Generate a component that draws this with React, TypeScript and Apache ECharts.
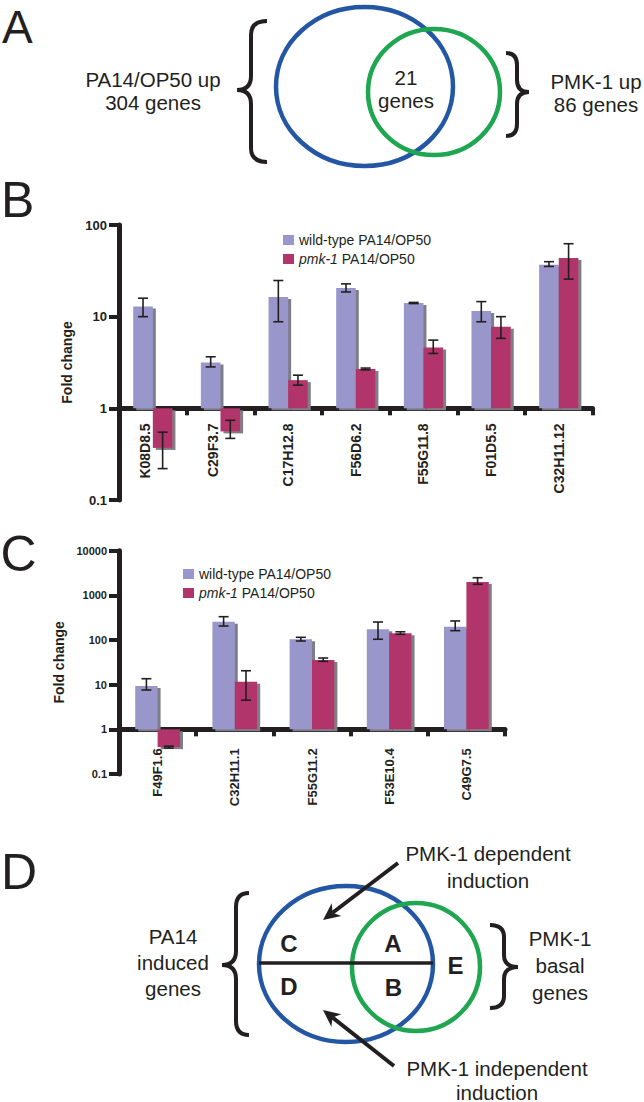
import React, { useEffect, useRef } from 'react';
import * as echarts from 'echarts';

// ---------- Panel B data ----------
const genesB = ['K08D8.5', 'C29F3.7', 'C17H12.8', 'F56D6.2', 'F55G11.8', 'F01D5.5', 'C32H11.12'];
const wtB = [12.9, 3.17, 16.4, 20.5, 14.1, 11.5, 36.8];
const wtBLo = [10.0, 2.83, 8.8, 18.6, 13.9, 8.8, 35.3];
const wtBHi = [15.9, 3.65, 24.8, 22.8, 14.3, 14.6, 39.8];
const pmkB = [0.37, 0.56, 2.03, 2.69, 4.62, 7.77, 43.6];
const pmkBLo = [0.22, 0.47, 1.79, 2.63, 3.97, 5.8, 25.7];
const pmkBHi = [0.55, 0.74, 2.3, 2.75, 5.55, 10.0, 62.5];
const ticksB = [0.1, 1, 10, 100];

// ---------- Panel C data ----------
const genesC = ['F49F1.6', 'C32H11.1', 'F55G11.2', 'F53E10.4', 'C49G7.5'];
const wtC = [9.3, 257, 104, 174, 199];
const wtCLo = [7.6, 206, 95, 104, 162];
const wtCHi = [13.6, 333, 115, 253, 267];
const pmkC = [0.4, 11.6, 35.6, 141, 1990];
const pmkCLo = [0.38, 4.5, 33.3, 134, 1767];
const pmkCHi = [0.42, 20.5, 39.5, 153, 2485];
const ticksC = [0.1, 1, 10, 100, 1000, 10000];

const seriesNames = ['wild-type PA14/OP50', 'pmk-1 PA14/OP50'];

// ---------- Styles ----------
const WT = '#9996cb';
const PMK = '#b1356a';
const SHADOW = '#7e7e86';
const INK = '#231f20';
const BLUE = '#2356a3';
const GREEN = '#1fa650';
const FONT = '"Liberation Sans", Arial, Helvetica, sans-serif';
const BAR_FRAC = 0.29;

const gridB = { left: 119, top: 225, width: 473.6, height: 275 };
const gridC = { left: 119, top: 550.7, width: 386, height: 223.3 };

const lg = (v: number) => Math.log10(v);
const fmtTick = (ticks: number[]) => (v: number) => {
  const t = ticks.find((tk) => Math.abs(Math.log10(tk) - v) < 1e-6);
  return t === undefined ? '' : String(t);
};
// distance (px) from the bottom of a grid up to the "fold change = 1" level
const baseOffset = (ticks: number[], height: number) => {
  const mn = lg(ticks[0]);
  const mx = lg(ticks[ticks.length - 1]);
  return (height * (0 - mn)) / (mx - mn);
};

function braceD(xEnd: number, xStem: number, xTip: number, y0: number, ym: number, y1: number, r: number) {
  return `M${xEnd} ${y0} Q${xStem} ${y0} ${xStem} ${y0 + r} L${xStem} ${ym - r} Q${xStem} ${ym} ${xTip} ${ym} Q${xStem} ${ym} ${xStem} ${ym + r} L${xStem} ${y1 - r} Q${xStem} ${y1} ${xEnd} ${y1}`;
}

const braces: Record<string, string> = {
  braceAL: braceD(267, 251, 237, 21, 90, 162, 14),
  braceAR: braceD(506, 517, 529, 53, 92, 136, 12),
  braceDL: braceD(249, 236, 222, 893, 965, 1035, 14),
  braceDR: braceD(490, 504, 518, 925, 967, 1008, 12),
};
let registered = false;
function registerBraces() {
  if (registered) return;
  registered = true;
  Object.keys(braces).forEach((k) => {
    echarts.graphic.registerShape(k, echarts.graphic.extendPath(braces[k], {}));
  });
}

function arrow(x1: number, y1: number, x2: number, y2: number) {
  const dx = x2 - x1, dy = y2 - y1;
  const len = Math.sqrt(dx * dx + dy * dy);
  const ux = dx / len, uy = dy / len;
  const nx = -uy, ny = ux;
  const L = 17, W = 8, notch = 5;
  const bx = x2 - ux * L, by = y2 - uy * L;
  return [
    { type: 'line', shape: { x1, y1, x2: bx + ux * notch, y2: by + uy * notch }, style: { stroke: INK, lineWidth: 4 } },
    {
      type: 'polygon',
      shape: { points: [[x2, y2], [bx + nx * W, by + ny * W], [bx + ux * notch, by + uy * notch], [bx - nx * W, by - ny * W]] },
      style: { fill: INK },
    },
  ];
}

// labels of genes whose pmk-1 bar hangs below 1 are nudged aside in panel B
function xAxisCfg(gridIndex: number, data: string[], fontSize: number, margin: number, offset: number, nudge: boolean[]) {
  return {
    type: 'category', gridIndex, data, position: 'bottom', offset,
    axisLine: { show: true, onZero: false, lineStyle: { color: INK, width: 5 } },
    axisTick: { show: true, length: 7, lineStyle: { color: INK, width: 4 } },
    axisLabel: {
      rotate: 90, interval: 0, margin, color: INK, fontWeight: 'bold', fontSize, fontFamily: FONT,
      formatter: (v: string, i: number) => (nudge[i] ? `{n|${v}}` : v),
      rich: { n: { padding: [0, 0, 15, 0], color: INK, fontWeight: 'bold', fontSize, fontFamily: FONT } },
    },
    splitLine: { show: false },
  };
}

function yAxisCfg(gridIndex: number, ticks: number[], fontSize: number) {
  return {
    type: 'value', gridIndex,
    min: Math.round(lg(ticks[0])), max: Math.round(lg(ticks[ticks.length - 1])), interval: 1,
    axisLine: { show: true, onZero: false, lineStyle: { color: INK, width: 5 } },
    axisTick: { show: true, length: 10, lineStyle: { color: INK, width: 4 } },
    axisLabel: { formatter: fmtTick(ticks), margin: 12, color: INK, fontWeight: 'bold', fontSize, fontFamily: FONT },
    splitLine: { show: false },
    name: 'Fold change', nameLocation: 'middle', nameRotate: 90, nameGap: 44,
    nameTextStyle: { color: INK, fontWeight: 'bold', fontSize: 14, fontFamily: FONT },
  };
}

function barSeries(name: string, idx: number, vals: number[], color: string) {
  return {
    type: 'bar', name, xAxisIndex: idx, yAxisIndex: idx,
    data: vals.map(lg), barWidth: `${BAR_FRAC * 100}%`, barGap: '0%',
    itemStyle: { color, shadowColor: SHADOW, shadowOffsetX: 3, shadowOffsetY: 2, shadowBlur: 0 },
  };
}

function errSeries(idx: number, lo: number[], hi: number[], side: number) {
  return {
    type: 'custom', xAxisIndex: idx, yAxisIndex: idx, silent: true, z: 5,
    data: lo.map((l, i) => [i, lg(l), lg(hi[i])]),
    renderItem: (params: any, api: any) => {
      const i = api.value(0);
      const pLo = api.coord([i, api.value(1)]);
      const pHi = api.coord([i, api.value(2)]);
      const band = api.size([1, 0])[0];
      const x = pLo[0] + (side * band * BAR_FRAC) / 2;
      const cap = 5;
      const st = { stroke: INK, lineWidth: 1.6 };
      return {
        type: 'group',
        children: [
          { type: 'line', shape: { x1: x, y1: pLo[1], x2: x, y2: pHi[1] }, style: st },
          { type: 'line', shape: { x1: x - cap, y1: pHi[1], x2: x + cap, y2: pHi[1] }, style: st },
          { type: 'line', shape: { x1: x - cap, y1: pLo[1], x2: x + cap, y2: pLo[1] }, style: st },
        ],
      };
    },
  };
}

function legendCfg(left: number, top: number) {
  return {
    data: seriesNames, left, top, orient: 'vertical', itemWidth: 11, itemHeight: 10, itemGap: 5,
    icon: 'rect', selectedMode: false,
    itemStyle: { shadowColor: 'rgba(0,0,0,0)', shadowOffsetX: 0, shadowOffsetY: 0, shadowBlur: 0 },
    textStyle: {
      color: INK, fontSize: 14, fontFamily: FONT,
      rich: { i: { fontStyle: 'italic', fontSize: 14, fontFamily: FONT, color: INK } },
    },
    formatter: (n: string) => (n.startsWith('pmk-1') ? '{i|pmk-1}' + n.slice(5) : n),
  };
}

function txt(text: string, x: number, y: number, fontSize: number, opts: any = {}) {
  return {
    type: 'text', x, y, z: 20,
    style: {
      text, fill: INK, fontSize, fontFamily: FONT, align: opts.align || 'center', verticalAlign: 'middle',
      fontWeight: opts.weight || 'normal', lineHeight: opts.lineHeight || fontSize * 1.15,
    },
  };
}

function ellipse(cx: number, cy: number, rx: number, ry: number, stroke: string) {
  return { type: 'ellipse', shape: { cx, cy, rx, ry }, style: { fill: 'none', stroke, lineWidth: 4.5 } };
}

export default function App() {
  const ref = useRef<HTMLDivElement>(null);
  useEffect(() => {
    if (!ref.current) return;
    registerBraces();
    const chart = echarts.init(ref.current, undefined, { renderer: 'svg' });
    const braceStyle = { fill: 'none', stroke: INK, lineWidth: 4 };
    const option: any = {
      animation: false,
      backgroundColor: '#ffffff',
      grid: [gridB, gridC],
      xAxis: [
        xAxisCfg(0, genesB, 14, 15, -baseOffset(ticksB, gridB.height), pmkB.map((v) => v < 1)),
        xAxisCfg(1, genesC, 13, 19, -baseOffset(ticksC, gridC.height), pmkC.map(() => false)),
      ],
      yAxis: [yAxisCfg(0, ticksB, 13), yAxisCfg(1, ticksC, 11)],
      legend: [legendCfg(278, 228), legendCfg(178, 562)],
      series: [
        barSeries(seriesNames[0], 0, wtB, WT),
        barSeries(seriesNames[1], 0, pmkB, PMK),
        errSeries(0, wtBLo, wtBHi, -1),
        errSeries(0, pmkBLo, pmkBHi, 1),
        barSeries(seriesNames[0], 1, wtC, WT),
        barSeries(seriesNames[1], 1, pmkC, PMK),
        errSeries(1, wtCLo, wtCHi, -1),
        errSeries(1, pmkCLo, pmkCHi, 1),
      ],
      graphic: [
        txt('A', 2, 26.5, 46, { align: 'left', lineHeight: 40 }),
        txt('B', 1, 199.5, 50, { align: 'left', lineHeight: 40 }),
        txt('C', 0.5, 553.5, 50, { align: 'left', lineHeight: 40 }),
        txt('D', 1, 871.5, 50, { align: 'left', lineHeight: 40 }),
        ellipse(364.5, 86.5, 88.5, 79.5, BLUE),
        ellipse(434, 92, 66, 63, GREEN),
        { type: 'braceAL', style: braceStyle },
        { type: 'braceAR', style: braceStyle },
        txt('PA14/OP50 up\n304 genes', 153, 91, 20.5, { lineHeight: 22.5 }),
        txt('21\ngenes', 406, 89, 20.5, { lineHeight: 23 }),
        txt('PMK-1 up\n86 genes', 596, 93, 20.5, { lineHeight: 23.5 }),
        ellipse(346, 964, 87, 78, BLUE),
        ellipse(416, 967, 64, 64, GREEN),
        { type: 'line', shape: { x1: 259, y1: 963, x2: 433, y2: 963 }, style: { stroke: INK, lineWidth: 3.5 } },
        { type: 'braceDL', style: braceStyle },
        { type: 'braceDR', style: braceStyle },
        txt('C', 289, 943.5, 24, { weight: 'bold' }),
        txt('A', 393, 943.5, 24, { weight: 'bold' }),
        txt('D', 289, 986.5, 24, { weight: 'bold' }),
        txt('B', 393.5, 987, 24, { weight: 'bold' }),
        txt('E', 455.5, 965.5, 24, { weight: 'bold' }),
        txt('PA14\ninduced\ngenes', 173, 962, 20.5, { lineHeight: 26 }),
        txt('PMK-1\nbasal\ngenes', 560, 965, 20.5, { lineHeight: 27 }),
        txt('PMK-1 dependent\ninduction', 488, 866.5, 20.5, { lineHeight: 27 }),
        txt('PMK-1 independent', 497, 1068, 20.5, { lineHeight: 20 }),
        txt('induction', 497, 1092, 20.5, { lineHeight: 18 }),
        ...arrow(398, 863, 323, 920),
        ...arrow(394, 1066, 323, 1010),
      ],
    };
    chart.setOption(option);
    return () => chart.dispose();
  }, []);
  return (
    <div
      ref={ref}
      style={{ position: 'absolute', left: 0, top: 0, width: 644, height: 1102, background: '#fff' }}
    />
  );
}
